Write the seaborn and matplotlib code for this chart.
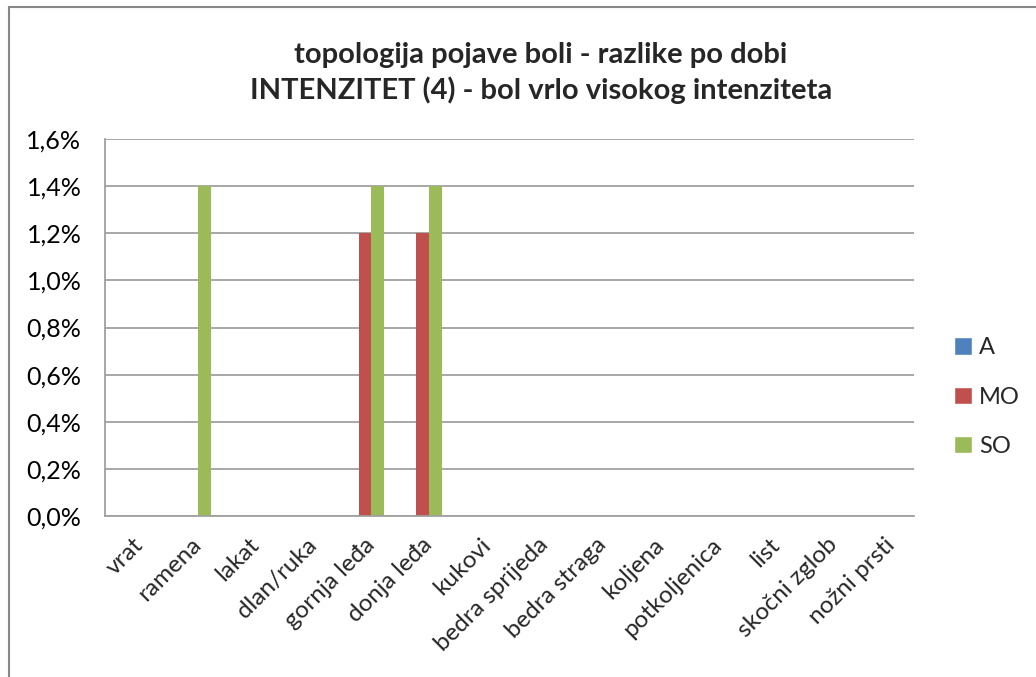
import pandas as pd
import matplotlib.pyplot as plt
import seaborn as sns
from matplotlib.patches import Patch, Rectangle
from matplotlib.ticker import FuncFormatter, MultipleLocator
from matplotlib.transforms import ScaledTranslation

categories = ["vrat", "ramena", "lakat", "dlan/ruka", "gornja leđa", "donja leđa",
              "kukovi", "bedra sprijeda", "bedra straga", "koljena", "potkoljenica",
              "list", "skočni zglob", "nožni prsti"]
series = ["A", "MO", "SO"]
a_vals = [0, 0, 0, 0, 0, 0, 0, 0, 0, 0, 0, 0, 0, 0]
mo_vals = [0, 0, 0, 0, 1.2, 1.2, 0, 0, 0, 0, 0, 0, 0, 0]
so_vals = [0, 1.4, 0, 0, 1.4, 1.4, 0, 0, 0, 0, 0, 0, 0, 0]
colors = ["#4F81BD", "#C0504D", "#9BBB59"]

df = pd.DataFrame({"kat": categories, "A": a_vals, "MO": mo_vals, "SO": so_vals})
long = df.melt(id_vars="kat", var_name="grupa", value_name="pct")

sns.set_style("white")
plt.rcParams["font.family"] = ["Lato", "DejaVu Sans"]

fig = plt.figure(figsize=(10.36, 6.77), dpi=100)
ax = fig.add_axes([105 / 1036, 1 - 516 / 677, (914 - 105) / 1036, (516 - 139) / 677])

sns.barplot(data=long, x="kat", y="pct", hue="grupa", hue_order=series,
            palette=colors, width=0.667, saturation=1, ax=ax, legend=False,
            linewidth=0)

ax.set_ylim(0, 1.6)
ax.yaxis.set_major_locator(MultipleLocator(0.2))
ax.yaxis.set_major_formatter(FuncFormatter(lambda v, p: f"{v:.1f}%".replace(".", ",")))
ax.grid(axis="y", color="#A0A0A0", linewidth=1.3)
ax.set_axisbelow(True)
ax.set_xlim(-0.5, len(categories) - 0.5)
ax.set_xlabel("")
ax.set_ylabel("")
for s in ["top", "right"]:
    ax.spines[s].set_visible(False)
for s in ["left", "bottom"]:
    ax.spines[s].set_color("#A0A0A0")
    ax.spines[s].set_linewidth(1.3)
ax.tick_params(axis="y", labelsize=18, length=0, pad=17, colors="#000000")
ax.tick_params(axis="x", labelsize=17.5, length=0, pad=13)
offset = ScaledTranslation(-1 / 100, 0, fig.dpi_scale_trans)
for lab in ax.get_xticklabels():
    lab.set_rotation(45)
    lab.set_ha("right")
    lab.set_rotation_mode("anchor")
    lab.set_transform(lab.get_transform() + offset)

fig.text(541 / 1036, 1 - 73 / 677,
         "topologija pojave boli - razlike po dobi\nINTENZITET (4) - bol vrlo visokog intenziteta",
         ha="center", va="center", fontsize=21, fontweight="bold", linespacing=1.35)

handles = [Patch(facecolor=c, label=s) for s, c in zip(series, colors)]
fig.legend(handles=handles, loc="center left", bbox_to_anchor=(933 / 1036, 1 - 397 / 677),
           frameon=False, fontsize=17, handlelength=0.75, handleheight=0.75,
           handletextpad=0.3, labelspacing=1.2)

fig.patches.append(Rectangle((9 / 1036, -0.05), 1.1, 1 - 7 / 677 + 0.05,
                             transform=fig.transFigure, fill=False,
                             edgecolor="#888888", linewidth=1.5))

fig.savefig("out.png", dpi=100)
